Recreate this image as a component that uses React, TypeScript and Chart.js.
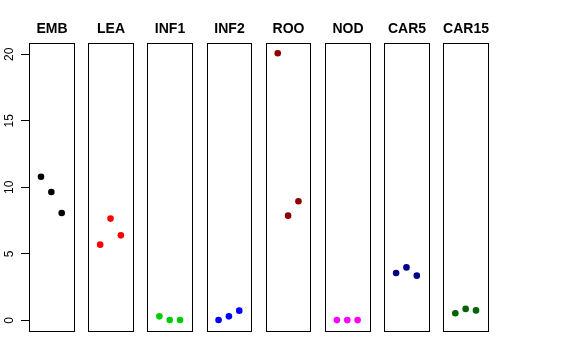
import React, { useEffect, useRef } from "react";
import { Chart, registerables } from "chart.js";

Chart.register(...registerables);

const panels = ["EMB", "LEA", "INF1", "INF2", "ROO", "NOD", "CAR5", "CAR15"];
const colors = ["#000000", "#FF0000", "#00CD00", "#0000FF", "#8B0000", "#FF00FF", "#00008B", "#006400"];
const EMB = [10.8, 9.65, 8.07];
const LEA = [5.69, 7.65, 6.39];
const INF1 = [0.3, 0.03, 0.03];
const INF2 = [0.03, 0.3, 0.73];
const ROO = [20.08, 7.87, 8.95];
const NOD = [0.02, 0.02, 0.02];
const CAR5 = [3.56, 3.98, 3.36];
const CAR15 = [0.53, 0.86, 0.75];
const seriesValues = [EMB, LEA, INF1, INF2, ROO, NOD, CAR5, CAR15];
const yTicks = [0, 5, 10, 15, 20];

const PITCH = 5.72; // panel spacing in x units
const PAD = 0.16; // panel extends 0..4 plus 4%

export default function App() {
  const ref = useRef<HTMLCanvasElement>(null);
  useEffect(() => {
    const canvas = ref.current!;
    const datasets = seriesValues.map((vals, p) => ({
      label: panels[p],
      data: vals.map((v, j) => ({ x: p * PITCH + (j + 1), y: v })),
      backgroundColor: colors[p],
      borderColor: colors[p],
      borderWidth: 0,
      pointRadius: 3.3,
    }));
    const panelPlugin = {
      id: "panels",
      afterDatasetsDraw(chart: any) {
        const ctx = chart.ctx;
        const xs = chart.scales.x;
        const { top, bottom } = chart.chartArea;
        ctx.save();
        ctx.strokeStyle = "#000";
        ctx.lineWidth = 1;
        ctx.fillStyle = "#000";
        ctx.font = "bold 14px 'Liberation Sans', Arial, sans-serif";
        ctx.textAlign = "center";
        ctx.textBaseline = "middle";
        panels.forEach((name, p) => {
          const l = Math.round(xs.getPixelForValue(p * PITCH - PAD)) + 0.5;
          const r = Math.round(xs.getPixelForValue(p * PITCH + 4 + PAD)) + 0.5;
          const t = Math.round(top) + 0.5;
          const b = Math.round(bottom) + 0.5;
          ctx.strokeRect(l, t, r - l, b - t);
          ctx.fillText(name, (l + r) / 2, 29.5);
        });
        ctx.restore();
      },
    };
    const chart = new Chart(canvas, {
      type: "scatter",
      data: { datasets },
      options: {
        animation: false,
        responsive: false,
        layout: { padding: { top: 43, bottom: 29, right: 88, left: 0 } },
        plugins: { legend: { display: false }, tooltip: { enabled: false } },
        scales: {
          x: {
            type: "linear",
            display: false,
            min: -PAD,
            max: 7 * PITCH + 4 + PAD,
          },
          y: {
            type: "linear",
            min: -0.8,
            max: 20.85,
            afterBuildTicks: (s: any) => {
              s.ticks = yTicks.map((v) => ({ value: v }));
            },
            afterFit: (s: any) => {
              s.width = 29;
            },
            border: { display: false },
            grid: {
              drawOnChartArea: false,
              drawTicks: true,
              tickLength: 8,
              color: "#000",
              lineWidth: 1,
            },
            ticks: {
              minRotation: 90,
              maxRotation: 90,
              crossAlign: "center",
              padding: 5,
              color: "#000",
              font: { family: "'Liberation Sans', Arial, sans-serif", size: 12 },
            },
          },
        },
      },
      plugins: [panelPlugin],
    });
    return () => chart.destroy();
  }, []);
  return (
    <div style={{ position: "absolute", left: 0, top: 0, width: 576, height: 360, background: "#fff" }}>
      <canvas ref={ref} width={576} height={360} style={{ width: 576, height: 360 }} />
    </div>
  );
}
